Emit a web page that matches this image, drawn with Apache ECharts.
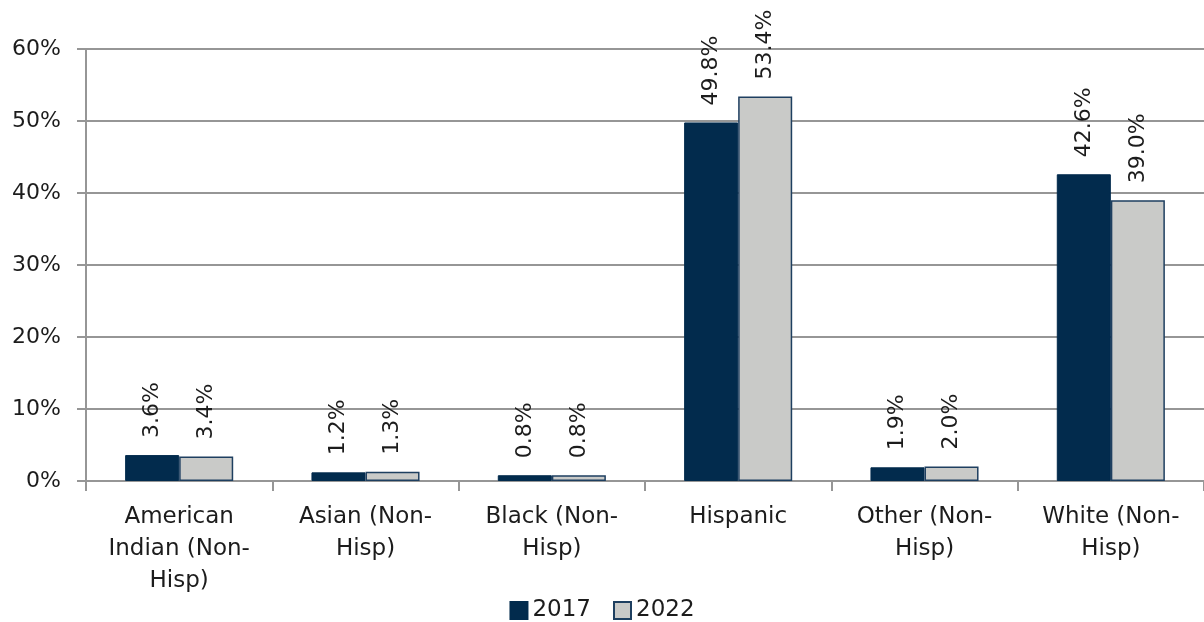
<!DOCTYPE html>
<html>
<head>
<meta charset="utf-8">
<script src="https://cdn.jsdelivr.net/npm/echarts@6/dist/echarts.min.js"></script>
<style>
  html, body { margin: 0; padding: 0; background: #fff; }
  #chart { width: 1204px; height: 622px; }
</style>
</head>
<body>
<div id="chart"></div>
<script>
// Population share by race/ethnicity, 2017 vs 2022
const categories = [
  'American\nIndian (Non-\nHisp)',
  'Asian (Non-\nHisp)',
  'Black (Non-\nHisp)',
  'Hispanic',
  'Other (Non-\nHisp)',
  'White (Non-\nHisp)'
];
const values2017 = [3.6, 1.2, 0.8, 49.8, 1.9, 42.6];
const values2022 = [3.4, 1.3, 0.8, 53.4, 2.0, 39.0];
const yTicks = [0, 10, 20, 30, 40, 50, 60];

const FONT = 'DejaVu Sans';
const NAVY = '#022B4D';
const GREY = '#C9CAC8';
const LINE = '#969696';
const TEXT = '#1c1c1c';

const chart = echarts.init(document.getElementById('chart'));

const valueLabel = {
  show: true,
  position: 'top',
  rotate: 90,
  align: 'left',
  verticalAlign: 'middle',
  distance: 17,
  color: TEXT,
  fontFamily: FONT,
  fontSize: 22,
  formatter: p => p.value.toFixed(1) + '%'
};

chart.setOption({
  animation: false,
  grid: { left: 86, right: 0, top: 49, bottom: 141, containLabel: false },
  legend: {
    top: 594,
    left: 'center',
    icon: 'rect',
    itemWidth: 17,
    itemHeight: 17,
    itemGap: 22,
    textStyle: { fontFamily: FONT, fontSize: 23, color: TEXT },
    data: ['2017', '2022']
  },
  xAxis: {
    type: 'category',
    data: categories,
    axisLine: { lineStyle: { color: LINE, width: 2 } },
    axisTick: { show: true, length: 10, lineStyle: { color: LINE, width: 2 } },
    axisLabel: {
      fontFamily: FONT, fontSize: 23, color: TEXT,
      lineHeight: 32, margin: 20, interval: 0
    }
  },
  yAxis: {
    type: 'value',
    min: yTicks[0],
    max: yTicks[yTicks.length - 1],
    interval: 10,
    axisLine: { show: true, lineStyle: { color: LINE, width: 2 } },
    axisTick: { show: true, length: 9, lineStyle: { color: LINE, width: 2 } },
    splitLine: { lineStyle: { color: LINE, width: 2 } },
    axisLabel: {
      fontFamily: FONT, fontSize: 22, color: TEXT, margin: 25,
      formatter: v => v + '%'
    }
  },
  series: [
    {
      name: '2017', type: 'bar', data: values2017,
      barGap: '0%', barCategoryGap: '42%',
      itemStyle: { color: NAVY, borderColor: NAVY, borderWidth: 1 },
      label: valueLabel
    },
    {
      name: '2022', type: 'bar', data: values2022,
      itemStyle: { color: GREY, borderColor: '#1E3F60', borderWidth: 1.5 },
      label: valueLabel
    }
  ]
});
</script>
</body>
</html>
